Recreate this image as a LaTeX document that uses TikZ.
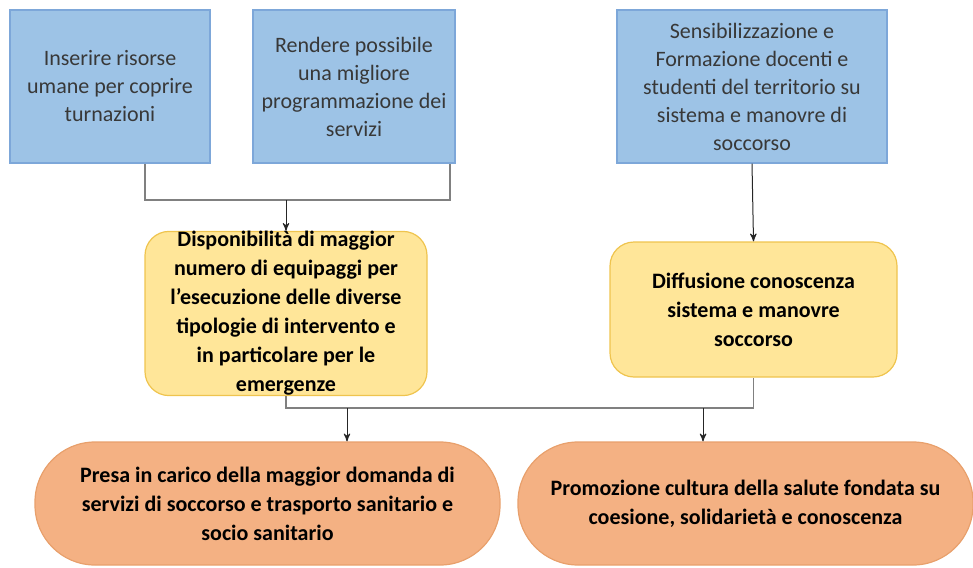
\documentclass[tikz,border=0pt]{standalone}
\usepackage{fontspec}
\setmainfont{Carlito}
\usepackage{tikz}
\usetikzlibrary{arrows}

\definecolor{boxblue}{HTML}{9DC3E6}
\definecolor{lineblue}{HTML}{7DA7D9}
\definecolor{boxyellow}{HTML}{FFE699}
\definecolor{lineyellow}{HTML}{EFC44E}
\definecolor{boxorange}{HTML}{F4B183}
\definecolor{lineorange}{HTML}{E8A06C}

\begin{document}
\begin{tikzpicture}[x=0.5pt,y=-0.5pt,>=stealth',semithick]

  \tikzstyle{azione}=[rectangle,draw=lineblue,fill=boxblue,align=center,
                      text=black!78,inner sep=0pt,minimum height=76.5pt,
                      font=\fontsize{11}{14}\selectfont]
  \tikzstyle{effetto}=[rectangle,rounded corners=12pt,draw=lineyellow,
                       fill=boxyellow,align=center,inner sep=0pt,
                       font=\bfseries\fontsize{11}{14.5}\selectfont]
  \tikzstyle{esito}=[rectangle,rounded corners=30pt,draw=lineorange,
                     fill=boxorange,align=center,inner sep=0pt,
                     minimum height=61.5pt,
                     font=\bfseries\fontsize{11}{14.5}\selectfont]
  \tikzstyle{link}=[draw=black!50,line width=0.6pt]
  \tikzstyle{arr}=[->,draw=black!85,line width=0.5pt]

  \useasboundingbox (0,0) rectangle (973,567);

  \node[azione,minimum width=100pt] (RIS) at (110,86.5)
    {Inserire risorse \\ umane per coprire \\ turnazioni};
  \node[azione,minimum width=101pt] (PRG) at (354,86.5)
    {Rendere possibile \\ una migliore \\ programmazione dei \\ servizi};
  \node[azione,minimum width=135pt] (FOR) at (752,86.5)
    {Sensibilizzazione e \\ Formazione docenti e \\ studenti del territorio su \\
     sistema e manovre di \\ soccorso};

  \node[effetto,minimum width=141pt,minimum height=81.5pt] (EQP) at (286,313.5)
    {Disponibilità di maggior \\ numero di equipaggi per \\
     l’esecuzione delle diverse \\ tipologie di intervento e \\
     in particolare per le \\ emergenze};
  \node[effetto,minimum width=143.5pt,minimum height=67.5pt] (DIF) at (753.5,309.5)
    {Diffusione conoscenza \\ sistema e manovre \\ soccorso};

  \node[esito,minimum width=232.5pt] (DOM) at (267.5,503.5)
    {Presa in carico della maggior domanda di \\
     servizi di soccorso e trasporto sanitario e \\ socio sanitario};
  \node[esito,minimum width=227.5pt] (CUL) at (745.5,503.5)
    {Promozione cultura della salute fondata su \\
     coesione, solidarietà e conoscenza};

  \coordinate (J1) at (286,200);
  \coordinate (J2) at (347,408);
  \coordinate (J3) at (703,408);

  \draw[link] ([xshift=17.5pt]RIS.south) |- (J1) -| ([xshift=48pt]PRG.south);
  \draw[arr]  (J1) -- (EQP.north);
  \draw[arr]  (FOR.south) -- (DIF.north);

  \draw[link] (EQP.south) |- (J2) -- (J3) -| (DIF.south);
  \draw[arr]  (J2) -- (J2 |- DOM.north);
  \draw[arr]  (J3) -- (J3 |- CUL.north);
\end{tikzpicture}
\end{document}
